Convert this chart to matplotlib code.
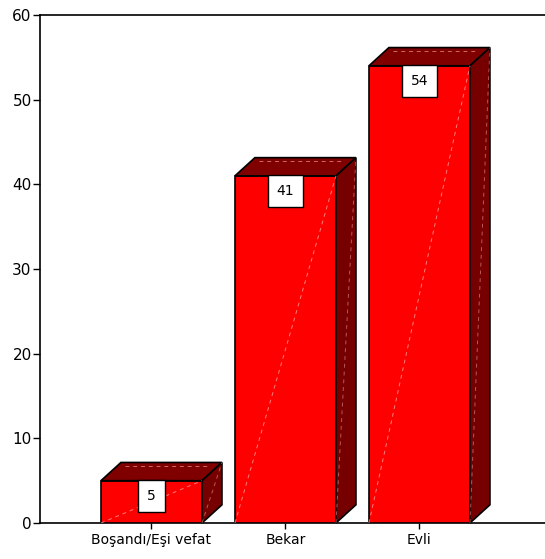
import matplotlib.pyplot as plt
from matplotlib.patches import Polygon

# data
categories = ["Boşandı/Eşi vefat", "Bekar", "Evli"]
counts = [5, 41, 54]
yticks = [0, 10, 20, 30, 40, 50, 60]

front_col = "#ff0000"
top_col = "#800000"
side_col = "#760000"
bar_w = 0.754
dx = 0.149   # depth offset (x, data units)
dy = 2.15    # depth offset (y, data units)

fig = plt.figure(figsize=(5.45, 5.59), dpi=100)
ax = fig.add_axes([0.0734, 0.0644, 0.9266, 0.9088])

for i, v in enumerate(counts):
    x0 = i - bar_w / 2
    x1 = i + bar_w / 2
    # front face
    ax.add_patch(Polygon([(x0, 0), (x1, 0), (x1, v), (x0, v)], closed=True,
                         facecolor=front_col, edgecolor="black", lw=1.2, zorder=3))
    # top face
    ax.add_patch(Polygon([(x0, v), (x1, v), (x1 + dx, v + dy), (x0 + dx, v + dy)],
                         closed=True, facecolor=top_col, edgecolor="black", lw=1.2,
                         zorder=3, clip_on=False))
    # side face
    ax.add_patch(Polygon([(x1, 0), (x1 + dx, dy), (x1 + dx, v + dy), (x1, v)],
                         closed=True, facecolor=side_col, edgecolor="black", lw=1.2,
                         zorder=3, clip_on=False))
    # faint sheen lines
    ax.plot([x0, x1], [0, v], color="#ffb0b0", lw=0.7, ls=(0, (4, 4)), alpha=0.7, zorder=4)
    ax.plot([x0 + dx * 1.2, x1 + dx * 0.3], [v + dy * 0.8, v + dy * 0.8], color="#ffb0b0",
            lw=0.7, ls=(0, (4, 4)), alpha=0.6, zorder=4, clip_on=False)
    ax.plot([x1, x1 + dx], [0, v + dy], color="#ffb0b0", lw=0.7, ls=(0, (4, 4)),
            alpha=0.5, zorder=4, clip_on=False)
    # value label
    ax.annotate(str(v), (i, v), xytext=(0, -6), textcoords="offset points",
                ha="center", va="top", fontsize=10, zorder=6,
                bbox=dict(boxstyle="square,pad=0.65", facecolor="white",
                          edgecolor="black", lw=1))

ax.set_xlim(-0.832, 2.937)
ax.set_ylim(0, 60)
ax.set_yticks(yticks)
ax.set_xticks(range(len(categories)))
ax.set_xticklabels(categories)
ax.tick_params(axis="y", length=5, width=1, labelsize=11, pad=1)
ax.tick_params(axis="x", length=4, width=1, labelsize=10, pad=3)
ax.spines["right"].set_visible(False)
for s in ["left", "top", "bottom"]:
    ax.spines[s].set_linewidth(1.2)

plt.savefig("out.png", dpi=100)
